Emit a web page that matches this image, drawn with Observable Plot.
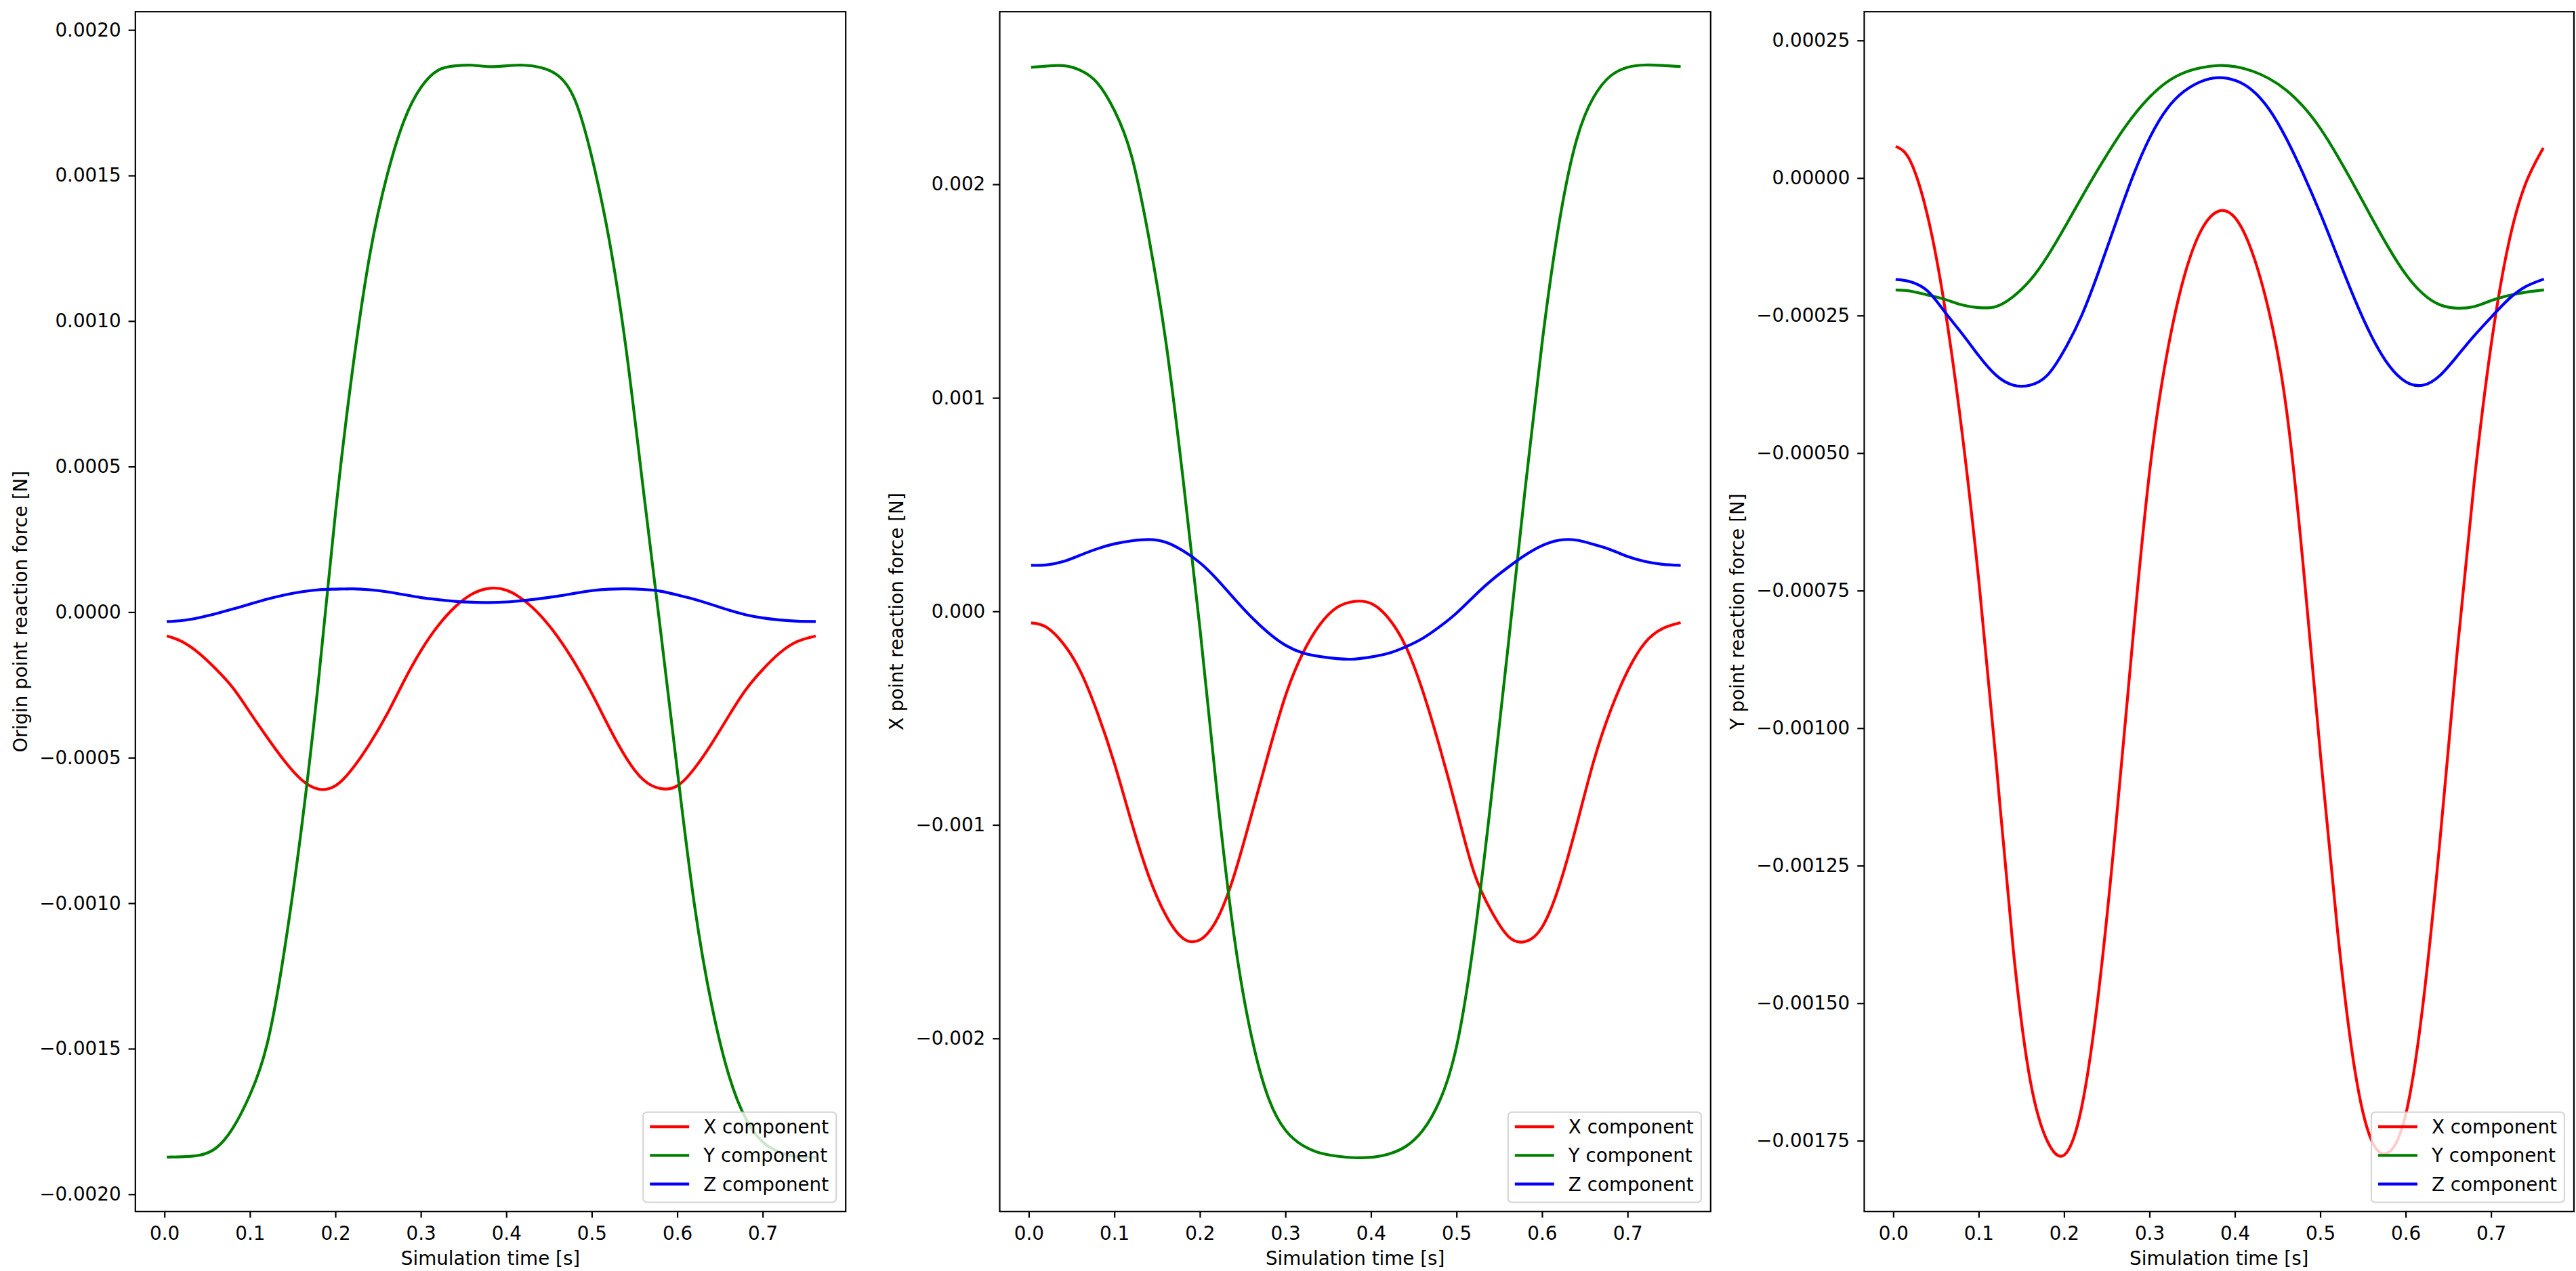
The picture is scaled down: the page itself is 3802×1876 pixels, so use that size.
<!DOCTYPE html>
<html>
<head>
<meta charset="utf-8">
<script src="https://cdn.jsdelivr.net/npm/d3@7"></script>
<script src="https://cdn.jsdelivr.net/npm/@observablehq/plot@0.6"></script>
<style>
html, body { margin: 0; padding: 0; background: #ffffff; }
#fig { position: relative; width: 3802px; height: 1876px; overflow: hidden; background: #ffffff; font-family: "DejaVu Sans"; }
#fig > svg { position: absolute; top: 0; }
</style>
</head>
<body>
<div id="fig"></div>
<script>
// ---------------- data (force values in units of 1e-4 N) ----------------
const UNIT = 1e-4;
const time = [0.004, 0.02, 0.04, 0.06, 0.08, 0.10, 0.12, 0.14, 0.16, 0.18, 0.20, 0.22, 0.24, 0.26, 0.28, 0.30, 0.32, 0.34, 0.36, 0.38,
              0.40, 0.42, 0.44, 0.46, 0.48, 0.50, 0.52, 0.54, 0.56, 0.58, 0.60, 0.62, 0.64, 0.66, 0.68, 0.70, 0.72, 0.74, 0.76];

// Origin point
const originX = [-0.82, -1.0, -1.4, -1.95, -2.6, -3.45, -4.3, -5.1, -5.75, -6.07, -5.95, -5.35, -4.5, -3.5, -2.35, -1.3, -0.45, 0.2, 0.64, 0.83,
                 0.76, 0.42, -0.12, -0.85, -1.75, -2.8, -3.95, -5.0, -5.75, -6.05, -5.95, -5.35, -4.5, -3.55, -2.65, -1.95, -1.38, -1.0, -0.82];
const originY = [-18.71, -18.7, -18.65, -18.4, -17.7, -16.55, -14.8, -11.6, -7.4, -2.3, 3.5, 8.4, 12.3, 15.0, 16.9, 18.05, 18.63, 18.78, 18.8, 18.75,
                 18.78, 18.8, 18.72, 18.45, 17.6, 15.6, 12.8, 9.0, 4.2, -0.6, -5.5, -10.1, -13.5, -15.9, -17.4, -18.2, -18.55, -18.7, -18.72];
const originZ = [-0.31, -0.28, -0.18, -0.04, 0.12, 0.29, 0.46, 0.6, 0.71, 0.78, 0.8, 0.81, 0.78, 0.71, 0.61, 0.51, 0.44, 0.38, 0.35, 0.34,
                 0.36, 0.41, 0.48, 0.56, 0.66, 0.75, 0.8, 0.81, 0.79, 0.73, 0.6, 0.45, 0.27, 0.08, -0.08, -0.19, -0.26, -0.3, -0.31];

// X point
const xPointX = [-0.53, -0.72, -1.5, -2.8, -4.75, -7.15, -9.9, -12.4, -14.23, -15.3, -15.36, -14.38, -12.3, -9.5, -6.6, -3.9, -1.94, -0.6, 0.2, 0.48,
                 0.38, -0.3, -1.6, -3.7, -6.35, -9.3, -12.2, -14.0, -15.2, -15.45, -14.75, -12.8, -10.0, -7.0, -4.6, -2.75, -1.45, -0.8, -0.53];
const xPointY = [25.5, 25.55, 25.57, 25.35, 24.75, 23.45, 21.3, 17.5, 12.6, 6.2, -0.9, -8.6, -15.3, -19.9, -22.8, -24.3, -25.0, -25.35, -25.5, -25.57,
                 -25.55, -25.4, -25.05, -24.3, -22.9, -20.3, -15.4, -8.8, -1.6, 5.8, 12.7, 18.3, 22.1, 24.1, 25.1, 25.5, 25.6, 25.58, 25.53];
const xPointZ = [2.17, 2.19, 2.35, 2.65, 2.95, 3.18, 3.32, 3.38, 3.25, 2.85, 2.28, 1.5, 0.6, -0.26, -1.0, -1.58, -1.93, -2.1, -2.2, -2.22,
                 -2.12, -1.95, -1.65, -1.25, -0.7, -0.05, 0.72, 1.45, 2.08, 2.65, 3.1, 3.35, 3.35, 3.15, 2.9, 2.58, 2.35, 2.22, 2.17];

// Y point
const yPointX = [0.57, 0.3, -0.7, -2.35, -4.6, -7.35, -10.6, -14.0, -16.4, -17.5, -17.75, -16.9, -14.8, -11.8, -8.4, -5.3, -3.2, -1.8, -0.95, -0.6,
                 -0.72, -1.35, -2.45, -4.2, -7.1, -10.5, -13.7, -16.2, -17.5, -17.7, -17.0, -15.0, -12.0, -8.6, -5.5, -3.0, -1.2, -0.1, 0.53];
const yPointY = [-2.03, -2.05, -2.12, -2.2, -2.3, -2.35, -2.33, -2.15, -1.85, -1.42, -0.9, -0.35, 0.18, 0.68, 1.12, 1.48, 1.75, 1.92, 2.01, 2.05,
                 2.03, 1.95, 1.81, 1.6, 1.3, 0.9, 0.4, -0.15, -0.72, -1.27, -1.75, -2.1, -2.3, -2.36, -2.33, -2.22, -2.13, -2.07, -2.03];
const yPointZ = [-1.84, -1.88, -2.05, -2.43, -2.82, -3.23, -3.58, -3.76, -3.76, -3.58, -3.12, -2.5, -1.7, -0.82, 0.03, 0.74, 1.26, 1.58, 1.76, 1.83,
                 1.78, 1.6, 1.25, 0.72, 0.07, -0.65, -1.43, -2.2, -2.88, -3.4, -3.7, -3.76, -3.58, -3.23, -2.86, -2.52, -2.2, -1.97, -1.84];

const componentLabels = ["X component", "Y component", "Z component"];
const componentColors = ["#ff0000", "#008000", "#0000ff"];

const xTicks = [0.0, 0.1, 0.2, 0.3, 0.4, 0.5, 0.6, 0.7];
const yTicksOrigin = [-0.0020, -0.0015, -0.0010, -0.0005, 0.0, 0.0005, 0.0010, 0.0015, 0.0020];
const yTicksXPoint = [-0.002, -0.001, 0.0, 0.001, 0.002];
const yTicksYPoint = [-0.00175, -0.00150, -0.00125, -0.00100, -0.00075, -0.00050, -0.00025, 0.0, 0.00025];

const xLabel = "Simulation time [s]";
const yLabels = ["Origin point reaction force [N]", "X point reaction force [N]", "Y point reaction force [N]"];

// ---------------- layout ----------------
const FIG_W = 3802, FIG_H = 1876;
const FONT = 27.78;
const LW = 4.17;
const AXLW = 2.2;
const MT = 16.7, MB = 88.3;
const XDOMAIN = [-0.0344, 0.7967];

const panels = [
  { series: [originX, originY, originZ], ylabel: yLabels[0], yDomain: [-0.002058, 0.002064], yTicks: yTicksOrigin, yFmt: ".4f", frameLeft: 199.3, frameRight: 1247.7, ylabelDx: -168.8 },
  { series: [xPointX, xPointY, xPointZ], ylabel: yLabels[1], yDomain: [-0.002809, 0.002810], yTicks: yTicksXPoint, yFmt: ".3f", frameLeft: 1474.5, frameRight: 2523.8, ylabelDx: -151 },
  { series: [yPointX, yPointY, yPointZ], ylabel: yLabels[2], yDomain: [-0.001878, 0.000303], yTicks: yTicksYPoint, yFmt: ".5f", frameLeft: 2750.8, frameRight: 3798.3, ylabelDx: -186.4 }
];

function legendMark(index, scales, values, dim) {
  const right = dim.width - dim.marginRight - 13.5;
  const bottom = dim.height - dim.marginBottom - 13;
  const w = 285, h = 133;
  const left = right - w, top = bottom - h;
  const g = d3.create("svg:g").attr("text-anchor", "start");
  g.append("rect")
    .attr("x", left).attr("y", top).attr("width", w).attr("height", h).attr("rx", 5.5)
    .attr("fill", "#ffffff").attr("fill-opacity", 0.8)
    .attr("stroke", "#cccccc").attr("stroke-opacity", 0.8).attr("stroke-width", AXLW);
  componentLabels.forEach((lab, i) => {
    const y = top + 21.5 + i * 42.2;
    g.append("line")
      .attr("x1", left + 10).attr("x2", left + 68).attr("y1", y).attr("y2", y)
      .attr("stroke", componentColors[i]).attr("stroke-width", LW);
    g.append("text")
      .attr("x", left + 89).attr("y", y + 10)
      .attr("text-anchor", "start")
      .attr("font-family", "DejaVu Sans").attr("font-size", FONT).attr("fill", "#000000")
      .text(lab);
  });
  return g.node();
}

const fig = document.getElementById("fig");

panels.forEach((p) => {
  const svgLeft = Math.max(0, p.frameLeft - 220);
  const ML = p.frameLeft - svgLeft;
  const MR = Math.min(20, FIG_W - p.frameRight);
  const width = ML + (p.frameRight - p.frameLeft) + MR;

  const lineMarks = p.series.map((vals, i) =>
    Plot.line(time.map((t, k) => ({ t, v: vals[k] * UNIT })), {
      x: "t", y: "v", stroke: componentColors[i], strokeWidth: LW,
      curve: "natural", strokeLinejoin: "round", strokeLinecap: "square"
    })
  );

  const chart = Plot.plot({
    width, height: FIG_H,
    marginLeft: ML, marginRight: MR, marginTop: MT, marginBottom: MB,
    style: { background: "transparent", fontFamily: "DejaVu Sans", fontSize: FONT + "px", color: "#000000", overflow: "visible" },
    x: { domain: XDOMAIN },
    y: { domain: p.yDomain },
    marks: [
      Plot.axisX({ ticks: xTicks, tickFormat: d3.format(".1f"), tickSize: 9.7, tickPadding: 12, strokeWidth: AXLW, fontSize: FONT, label: null }),
      Plot.axisY({ ticks: p.yTicks, tickFormat: d3.format(p.yFmt), tickSize: 9.7, tickPadding: 11.5, strokeWidth: AXLW, fontSize: FONT, label: null }),
      ...lineMarks,
      legendMark,
      Plot.frame({ stroke: "#000000", strokeWidth: AXLW }),
      Plot.text([xLabel], { text: d => d, frameAnchor: "bottom", dy: 70, fontSize: FONT, lineAnchor: "middle", fill: "#000000" }),
      Plot.text([p.ylabel], { text: d => d, frameAnchor: "left", dx: p.ylabelDx, rotate: -90, fontSize: FONT, lineAnchor: "middle", textAnchor: "middle", fill: "#000000" })
    ]
  });
  chart.style.left = svgLeft + "px";
  fig.appendChild(chart);
});
</script>
</body>
</html>
